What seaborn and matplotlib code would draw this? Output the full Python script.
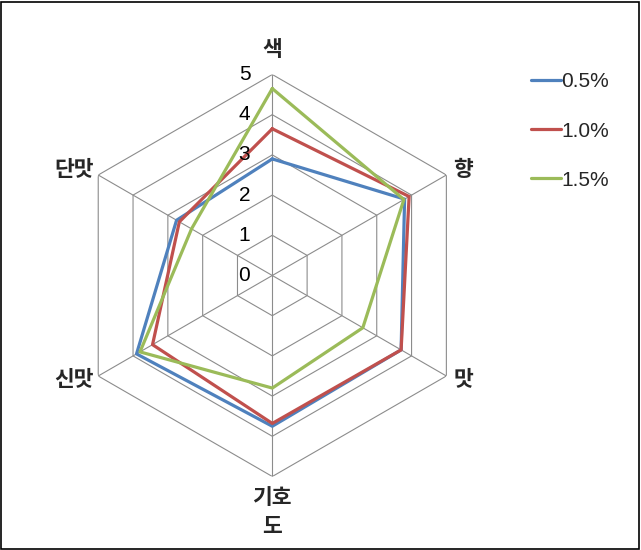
import numpy as np
import pandas as pd
import matplotlib
matplotlib.use("Agg")
import matplotlib.pyplot as plt
import matplotlib.transforms as mtransforms
from matplotlib.patches import Rectangle
from matplotlib.lines import Line2D
import seaborn as sns

categories = ['색', '향', '맛', '기호\n도', '신맛', '단맛']
series_names = ['0.5%', '1.0%', '1.5%']
s05 = [2.9, 3.8, 3.7, 3.75, 3.9, 2.75]
s10 = [3.65, 3.93, 3.7, 3.68, 3.44, 2.67]
s15 = [4.65, 3.78, 2.6, 2.8, 3.8, 2.32]
ticks = [0, 1, 2, 3, 4, 5]
colors = ['#4F81BD', '#C0504D', '#9BBB59']

sns.set_style('white')
plt.rcParams['font.family'] = ['Liberation Sans', 'Noto Sans CJK KR', 'DejaVu Sans']

n = len(categories)
theta = np.linspace(0, 2 * np.pi, n, endpoint=False)
theta_c = np.append(theta, theta[0])

rows = []
for name, vals in zip(series_names, [s05, s10, s15]):
    vc = list(vals) + [vals[0]]
    for i, (t, v) in enumerate(zip(theta_c, vc)):
        rows.append({'theta': t, 'value': v, 'series': name, 'order': i})
df = pd.DataFrame(rows)

fig = plt.figure(figsize=(6.41, 5.50), dpi=100)
W, H = 641, 550
cx, cy, R = 272.3, 275.5, 201
ax = fig.add_axes([(cx - R) / W, (H - cy - R) / H, 2 * R / W, 2 * R / H], projection='polar')
ax.set_theta_zero_location('N')
ax.set_theta_direction(-1)
ax.set_ylim(0, 5)
ax.grid(False)
ax.spines['polar'].set_visible(False)
ax.set_xticks([])
ax.set_yticks([])
ax.patch.set_alpha(0)

grid_col = '#8C8C8C'
for r in ticks[1:]:
    ax.plot(theta_c, [r] * (n + 1), color=grid_col, lw=0.8, zorder=1)
for t in theta:
    ax.plot([t, t], [0, 5], color=grid_col, lw=0.8, zorder=1)

sns.lineplot(data=df, x='theta', y='value', hue='series', palette=colors,
             sort=False, estimator=None, units='series', lw=2.3, ax=ax,
             legend=False, zorder=3)

# radial tick labels
off = mtransforms.ScaledTranslation(-22 / 100, 0, fig.dpi_scale_trans)
for v in ticks:
    ax.text(0, v, str(v), transform=ax.transData + off, ha='right', va='center',
            fontsize=15, color='black')

# category labels (pixel centres)
label_px = [(272, 50), (463, 169.5), (463, 379), (272, 512), (74, 379), (74, 169)]
for lab, (px, py) in zip(categories, label_px):
    fig.text(px / W, 1 - py / H, lab, ha='center', va='center', fontsize=15.5,
             family=['Noto Sans CJK KR', 'DejaVu Sans'], fontweight='bold',
             linespacing=1.45)

handles = [Line2D([], [], color=c, lw=2.3) for c in colors]
fig.legend(handles, series_names, loc='upper left', bbox_to_anchor=(523 / W, 1 - 64 / H),
           frameon=False, fontsize=15, handlelength=1.4, handletextpad=0.05,
           labelspacing=1.45, borderaxespad=0)

fig.patches.append(Rectangle((1 / W, 1 / H), (W - 3) / W, (H - 3) / H,
                             transform=fig.transFigure, fill=False,
                             edgecolor='black', lw=1.2))

fig.savefig('out.png', dpi=100)
